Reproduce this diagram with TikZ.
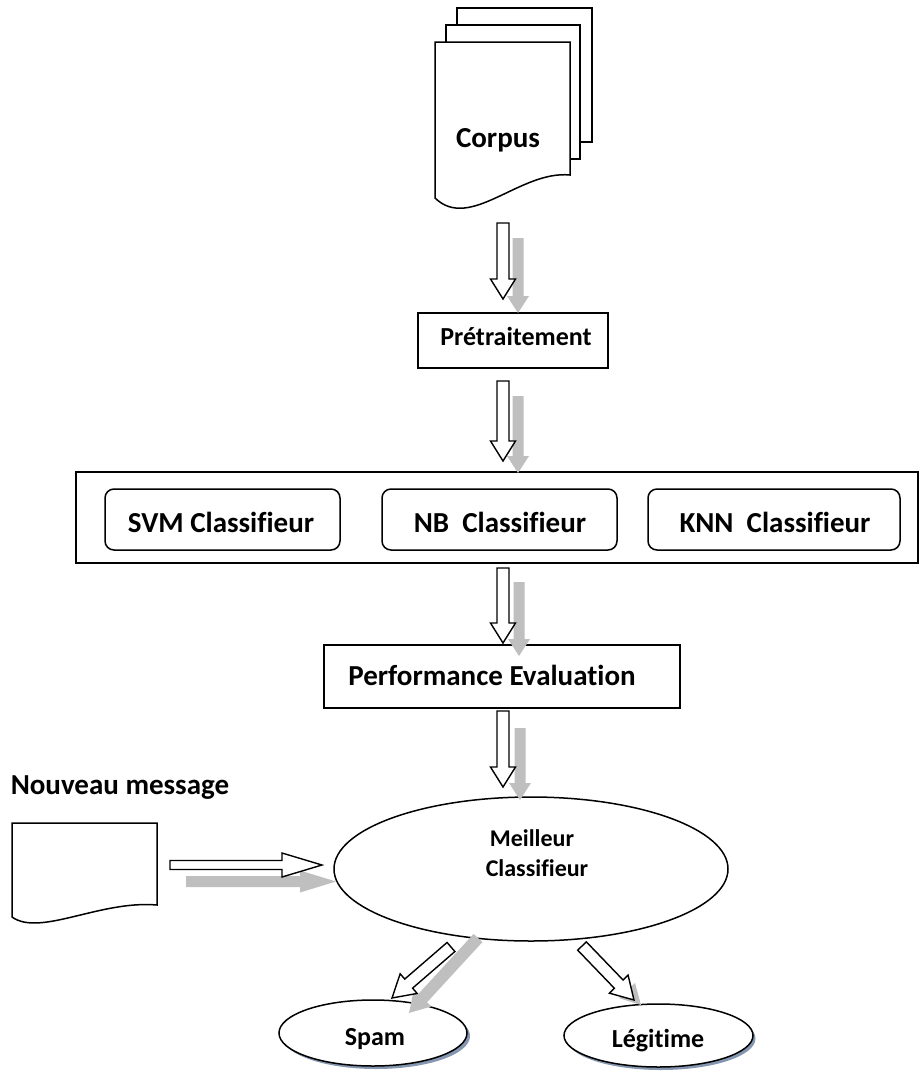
\documentclass[tikz,border=0pt]{standalone}
\usepackage{fontspec}
\setmainfont{Carlito}[Ligatures=NoCommon]
\usetikzlibrary{shapes.geometric}
\definecolor{arrgray}{HTML}{BFBFBF}
\definecolor{shadowc}{HTML}{8496B0}
\newcommand\blockarr[6]{%
 \pgfmathanglebetweenpoints{\pgfpointanchor{#2}{center}}{\pgfpointanchor{#3}{center}}%
 \let\baang\pgfmathresult
 \pgfpointdiff{\pgfpointanchor{#2}{center}}{\pgfpointanchor{#3}{center}}%
 \pgfgetlastxy{\badx}{\bady}%
 \pgfmathsetmacro\balen{veclen(\badx,\bady)}%
 \pgfmathsetmacro\balh{\balen-#6}%
 \path[#1, shift={(#2)}, rotate=\baang] (0pt,-#4pt) -- (\balh pt,-#4pt) -- (\balh pt,-#5pt) -- (\balen pt,0pt) -- (\balh pt,#5pt) -- (\balh pt,#4pt) -- (0pt,#4pt) -- cycle;%
}
\begin{document}
\begin{tikzpicture}[x=1pt,y=-1pt,line width=1.5pt,
  txt/.style={font=\bfseries\fontsize{29}{34}\selectfont, inner sep=0pt},
  txtpre/.style={font=\bfseries\fontsize{26}{30}\selectfont, inner sep=0pt},
  txtsm/.style={font=\bfseries\fontsize{24}{28}\selectfont, inner sep=0pt},
  txtmd/.style={font=\bfseries\fontsize{26}{30}\selectfont, inner sep=0pt},
  box/.style={draw, rectangle, inner sep=0pt, fill=white},
  rbox/.style={draw, rectangle, rounded corners=9pt, inner sep=0pt, fill=white},
  hollow/.style={draw=black, fill=white, line width=1.4pt, line join=miter},
  grayarr/.style={fill=arrgray},
  page/.style={draw, fill=white, line width=1.5pt, line join=miter}]
\useasboundingbox (0,0) rectangle (920,1077);

% Corpus stack
\path[page] (457,8) rectangle (592,142);
\path[page] (446,25) rectangle (580,159);
\path[page] (435,42) -- (570,42) -- (570,175) .. controls (520,170) and (470,232) .. (435,198) -- cycle;
\node[txt, anchor=base] (tcorpus) at (498,147) {Corpus};

% boxes
\node[box, minimum width=190pt, minimum height=55pt] (pre) at (513,340.5) {};
\node[txtpre, anchor=base] (tpre) at (516,345) {Prétraitement};

\node[box, minimum width=842pt, minimum height=91pt] (big) at (497,517.5) {};
\node[rbox, minimum width=235pt, minimum height=61pt] (svm) at (222.5,519.5) {};
\node[rbox, minimum width=235pt, minimum height=61pt] (nb) at (499.5,519.5) {};
\node[rbox, minimum width=252pt, minimum height=61pt] (knn) at (774,519.5) {};
\node[txt, anchor=base] (tsvm) at (221,532) {SVM Classifieur};
\node[txt, anchor=base] (tnb) at (500,532) {NB\ \ Classifieur};
\node[txt, anchor=base] (tknn) at (775,532) {KNN\ \ Classifieur};

\node[box, minimum width=356pt, minimum height=63pt] (perf) at (502,676.5) {};
\node[txt, anchor=base] (tperf) at (492,685) {Performance Evaluation};

% new message
\node[txt, anchor=base west] (tnew) at (10,794) {Nouveau message};
\path[page] (12,823) -- (157,823) -- (157,905) .. controls (100,900) and (40,937) .. (12,917) -- cycle;

% best classifier ellipse
\node[ellipse, draw, fill=white, minimum width=394pt, minimum height=144pt, inner sep=0pt] (best) at (531,869) {};
\node[txtsm, anchor=base] (tbest1) at (532,846) {Meilleur};
\node[txtsm, anchor=base] (tbest2) at (537,876) {Classifieur};

% output ellipses with shadows
\node[ellipse, fill=shadowc, minimum width=188pt, minimum height=66pt, inner sep=0pt] (spamsh) at (376,1036) {};
\node[ellipse, draw, fill=white, minimum width=188pt, minimum height=66pt, inner sep=0pt] (spam) at (373,1033) {};
\node[txtmd, anchor=base] (tspam) at (375,1045) {Spam};
\node[ellipse, fill=shadowc, minimum width=189pt, minimum height=63pt, inner sep=0pt] (legsh) at (661,1038.5) {};
\node[ellipse, draw, fill=white, minimum width=189pt, minimum height=63pt, inner sep=0pt] (leg) at (658.5,1035.5) {};
\node[txtmd, anchor=base] (tleg) at (658,1047) {Légitime};

% arrow coordinates
\coordinate (h1s) at (503,223); \coordinate (h1e) at (503,299);
\coordinate (g1s) at (518,238); \coordinate (g1e) at (518,313);
\coordinate (h2s) at (503,381); \coordinate (h2e) at (503,461);
\coordinate (g2s) at (518,396); \coordinate (g2e) at (518,473);
\coordinate (h3s) at (503,568); \coordinate (h3e) at (503,643);
\coordinate (g3s) at (519,582); \coordinate (g3e) at (519,656);
\coordinate (h4s) at (503,711); \coordinate (h4e) at (503,787);
\coordinate (g4s) at (520,728); \coordinate (g4e) at (520,800);
\coordinate (h5s) at (170,865); \coordinate (h5e) at (322,865);
\coordinate (g5s) at (186,881.5); \coordinate (g5e) at (336,881.5);
\coordinate (h6s) at (451,947); \coordinate (h6e) at (392,998);
\coordinate (g6s) at (478,938); \coordinate (g6e) at (409,1013);
\coordinate (h7s) at (582,946); \coordinate (h7e) at (634,1000);
\coordinate (g7s) at (589,951); \coordinate (g7e) at (641,1005);

% gray arrows (behind)
\blockarr{grayarr}{g1s}{g1e}{5.5}{11}{17}
\blockarr{grayarr}{g2s}{g2e}{5.5}{11}{17}
\blockarr{grayarr}{g3s}{g3e}{5.5}{11}{17}
\blockarr{grayarr}{g4s}{g4e}{5.5}{11}{17}
\blockarr{grayarr}{g5s}{g5e}{5.5}{11}{36}
\blockarr{grayarr}{g6s}{g6e}{6}{12}{20}
\blockarr{grayarr}{g7s}{g7e}{5}{11}{20}

% hollow arrows
\blockarr{hollow}{h1s}{h1e}{6}{12.5}{20}
\blockarr{hollow}{h2s}{h2e}{6}{12.5}{20}
\blockarr{hollow}{h3s}{h3e}{6}{12.5}{20}
\blockarr{hollow}{h4s}{h4e}{6}{12.5}{20}
\blockarr{hollow}{h5s}{h5e}{4.5}{12}{40}
\blockarr{hollow}{h6s}{h6e}{6}{13}{22}
\blockarr{hollow}{h7s}{h7e}{6}{13}{22}
\end{tikzpicture}
\end{document}
